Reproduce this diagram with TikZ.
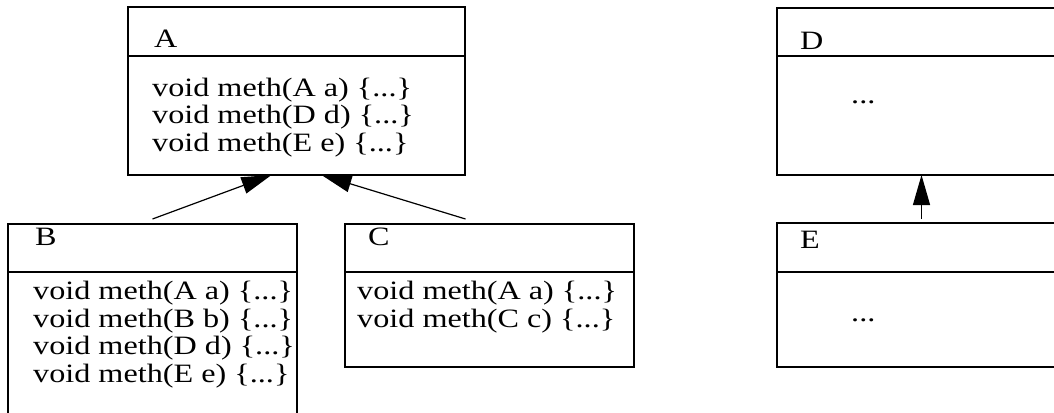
\documentclass[tikz,border=0pt]{standalone}
\usepackage{fontspec}
\setmainfont{Liberation Serif}[FakeStretch=1.215]
\usetikzlibrary{arrows.meta,positioning}

\begin{document}
\begin{tikzpicture}[
        x=1pt, y=-1pt,
        box/.style={draw, line width=2pt, inner sep=0pt, outer sep=0pt, anchor=north west, minimum width=289pt},
        head/.style={box, minimum height=48pt},
        txt/.style={inner sep=0pt, anchor=base west, font=\fontsize{26.5}{27.5}\selectfont, align=left},
        inherit/.style={-{Triangle[length=30pt,width=17pt]}, line width=1.2pt},
    ]
    \clip (0,0) rectangle (1054,412);

    % class A
    \node[head, minimum width=337pt, minimum height=49pt] (Ahead) at (128,7) {};
    \node[box, minimum width=337pt, minimum height=119pt, below=0pt of Ahead] (A) {};
    \node[txt] (Alab) at (154,48) {A};
    % base anchor sits on the last line
    \node[txt] (Ameth) at (152,151) {void meth(A a) \{...\}\\void meth(D d) \{...\}\\void meth(E e) \{...\}};

    % class B
    \node[head] (Bhead) at (8,224) {};
    \node[box, minimum height=150pt, below=0pt of Bhead] (B) {};
    \node[txt] (Blab) at (35,245) {B};
    \node[txt] (Bmeth) at (33,382) {void meth(A a) \{...\}\\void meth(B b) \{...\}\\void meth(D d) \{...\}\\void meth(E e) \{...\}};

    % class C
    \node[head] (Chead) at (345,224) {};
    \node[box, minimum height=95pt, below=0pt of Chead] (C) {};
    \node[txt] (Clab) at (368,245) {C};
    \node[txt] (Cmeth) at (357,327) {void meth(A a) \{...\}\\void meth(C c) \{...\}};

    % class D
    \node[head] (Dhead) at (777,8) {};
    \node[box, minimum height=119pt, below=0pt of Dhead] (D) {};
    \node[txt] (Dlab) at (800,49) {D};
    \node[txt] (Ddots) at (851,103) {...};

    % class E
    \node[head, minimum height=49pt] (Ehead) at (777,223) {};
    \node[box, minimum height=95pt, below=0pt of Ehead] (E) {};
    \node[txt] (Elab) at (800,248) {E};
    \node[txt] (Edots) at (851,321) {...};

    % inheritance
    \draw[inherit] ([yshift=5pt]Bhead.north) -- ([xshift=-25pt]A.south);
    \draw[inherit] ([xshift=-24pt,yshift=5pt]Chead.north) -- ([xshift=25pt]A.south);
    \draw[inherit] ([yshift=4pt]Ehead.north) -- (D.south);

\end{tikzpicture}
\end{document}
